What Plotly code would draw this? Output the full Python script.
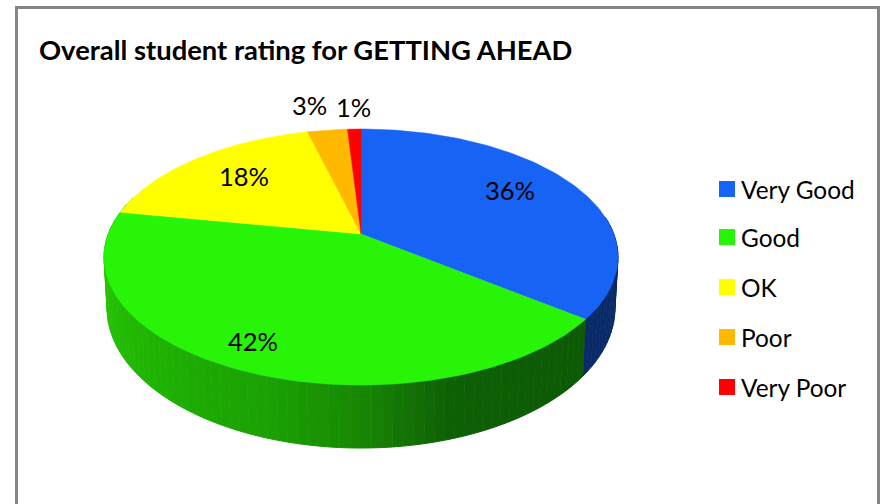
import numpy as np
import plotly.graph_objects as go

title = "Overall student rating for GETTING AHEAD"
categories = ["Very Good", "Good", "OK", "Poor", "Very Poor"]
values = [35.5, 42.4, 18.1, 3.0, 1.0]
top_colors = ["#1763F5", "#27F407", "#FFFF00", "#FFB900", "#FF0000"]
label_xy = [(510, 190), (253, 341), (244, 176), (309, 105), (353, 107)]
legend_y = [189, 237, 287, 337, 387]

# projection of the tilted disc onto the page (pixel coordinates)
CX, K = 361.0, 0.18
TOP = dict(cy=234.0, a=252.8, b=123.9)
BOT = dict(cy=282.8, a=249.8, b=135.5)


def project(phi_deg, s):
    p = np.radians(phi_deg)
    w = 1 + K * np.cos(p)
    return CX + s["a"] * np.sin(p) / w, s["cy"] - s["b"] * np.cos(p) / w


green_stops = [(120, (13, 88, 5)), (163, (14, 96, 5)), (180, (24, 135, 4)),
               (197, (27, 160, 3)), (235, (33, 185, 3)), (290, (46, 210, 6))]


def wall_colour(phi, blue):
    if blue:
        return "rgb(9,42,104)"
    xs = [s[0] for s in green_stops]
    return "rgb(%d,%d,%d)" % tuple(np.interp(phi, xs, [s[1][i] for s in green_stops]) for i in range(3))


fig = go.Figure()
angles = np.cumsum([0] + values) * 3.6

# side wall
edges = np.arange(82, 290, 2.0)
edges = np.sort(np.append(edges, angles[1]))
for a0, a1 in zip(edges[:-1], edges[1:]):
    mid = (a0 + a1) / 2
    col = wall_colour(mid, mid < angles[1])
    ph = np.array([a0, a1])
    x0, y0 = project(ph, TOP)
    x1, y1 = project(ph[::-1], BOT)
    fig.add_trace(go.Scatter(x=np.r_[x0, x1], y=np.r_[y0, y1], mode="lines", fill="toself",
                             fillcolor=col, line=dict(color=col, width=1), hoverinfo="skip"))

# top face
for i, name in enumerate(categories):
    ph = np.linspace(angles[i], angles[i + 1], 120)
    x, y = project(ph, TOP)
    fig.add_trace(go.Scatter(x=np.r_[CX, x, CX], y=np.r_[TOP["cy"], y, TOP["cy"]], mode="lines",
                             fill="toself", fillcolor=top_colors[i],
                             line=dict(color=top_colors[i], width=0.5), name=name, hoverinfo="name"))

# legend swatches
fig.add_trace(go.Scatter(x=[727] * 5, y=legend_y, mode="markers",
                         marker=dict(symbol="square", size=16, color=top_colors, line=dict(width=0)),
                         hoverinfo="skip"))

font = "Lato, 'Open Sans', sans-serif"
ann = [dict(x=38, y=49, text="<b>" + title + "</b>", xanchor="left", yanchor="middle",
            font=dict(family=font, size=27.4, color="black"))]
for (x, y), v in zip(label_xy, values):
    ann.append(dict(x=x, y=y, text=f"{v:.0f}%", xanchor="center", yanchor="middle",
                    font=dict(family=font, size=25.5, color="black")))
for y, name in zip(legend_y, categories):
    ann.append(dict(x=740, y=y, text=name, xanchor="left", yanchor="middle",
                    font=dict(family=font, size=24.4, color="black")))
for a in ann:
    a.update(xref="x", yref="y", showarrow=False, borderpad=0)

fig.update_layout(
    width=880, height=504, margin=dict(l=0, r=0, t=0, b=0), showlegend=False,
    paper_bgcolor="white", plot_bgcolor="white", annotations=ann,
    xaxis=dict(range=[0, 880], visible=False, fixedrange=True),
    yaxis=dict(range=[504, 0], visible=False, fixedrange=True),
    shapes=[dict(type="rect", xref="x", yref="y", x0=16.5, y0=7.5, x1=878.5, y1=530,
                 line=dict(color="#868686", width=3), fillcolor="rgba(0,0,0,0)", layer="below")],
)
fig.write_html("out.html", config=dict(displayModeBar=False),
               post_script="document.body.style.margin='0';document.documentElement.style.overflow='hidden';")
